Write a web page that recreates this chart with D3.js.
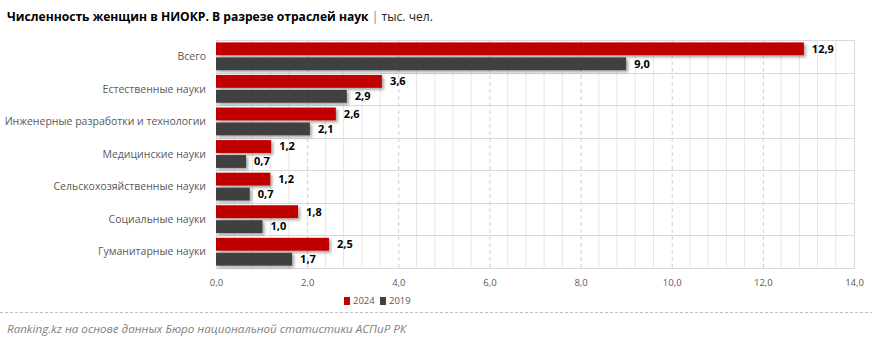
<!DOCTYPE html>
<html><head><meta charset="utf-8">
<script src="https://cdn.jsdelivr.net/npm/d3@7"></script>
<style>body{margin:0;background:#fff;} svg{display:block;font-family:"Open Sans",sans-serif;}</style>
</head><body>
<svg id="c" width="872" height="344"></svg>
<script>
const categories = ["Всего","Естественные науки","Инженерные разработки и технологии","Медицинские науки","Сельскохозяйственные науки","Социальные науки","Гуманитарные науки"];
const seriesNames = ["2024","2019"];
const values2024 = [12.9, 3.64, 2.63, 1.21, 1.19, 1.8, 2.48];
const values2019 = [9.0, 2.87, 2.06, 0.66, 0.74, 1.02, 1.67];
const xTicks = [0,2,4,6,8,10,12,14];
const colors = ["#C00000","#404040"];

const svg = d3.select("#c");
const defs = svg.append("defs");
const f = defs.append("filter").attr("id","sh").attr("x","-5%").attr("y","-50%").attr("width","115%").attr("height","250%");
f.append("feDropShadow").attr("dx",2).attr("dy",2).attr("stdDeviation",1.6).attr("flood-color","#000").attr("flood-opacity",0.35);

const L=216, R=854, T=40, B=268;
const x = d3.scaleLinear().domain([0,14]).range([L,R]);
const y = d3.scaleBand().domain(categories).range([T,B]);
const sub = d3.scaleBand().domain(seriesNames).range([0,y.bandwidth()]).paddingInner(0.14).paddingOuter(0.16);

// title
const title = svg.append("text").attr("x",7).attr("y",21).attr("font-size",12.1).attr("fill","#000");
title.append("tspan").attr("font-weight","bold").text("Численность женщин в НИОКР. В разрезе отраслей наук");
title.append("tspan").attr("fill","#7f7f7f").text(" | ");
title.append("tspan").attr("fill","#222").text("тыс. чел.");

// minor grid
const minor = d3.range(0,14.001,0.4).filter(v=>Math.abs(v/2-Math.round(v/2))>0.01);
svg.append("g").selectAll("line").data(minor).join("line")
  .attr("x1",d=>x(d)).attr("x2",d=>x(d)).attr("y1",T).attr("y2",B)
  .attr("stroke","#e6e6e6").attr("stroke-width",1);
// major dashed grid
svg.append("g").selectAll("line").data(xTicks.slice(1,-1)).join("line")
  .attr("x1",d=>x(d)+0.5).attr("x2",d=>x(d)+0.5).attr("y1",T).attr("y2",B)
  .attr("stroke","#cfcfcf").attr("stroke-dasharray","4,3");
// category separators
svg.append("g").selectAll("line").data(categories.slice(1)).join("line")
  .attr("x1",L).attr("x2",R).attr("y1",d=>Math.round(y(d))+0.5).attr("y2",d=>Math.round(y(d))+0.5)
  .attr("stroke","#d9d9d9");
// border
svg.append("rect").attr("x",L+0.5).attr("y",T+0.5).attr("width",R-L).attr("height",B-T)
  .attr("fill","none").attr("stroke","#d9d9d9");

const data = categories.map((c,i)=>({c, v:[values2024[i], values2019[i]]}));
const fmt = v => d3.format(".1f")(v).replace(".",",");

const g = svg.append("g");
data.forEach(d=>{
  seriesNames.forEach((s,j)=>{
    const yy = y(d.c)+sub(s);
    g.append("rect").attr("x",x(0)).attr("y",yy).attr("width",x(d.v[j])-x(0)).attr("height",sub.bandwidth())
      .attr("fill",colors[j]).attr("filter","url(#sh)");
    g.append("text").attr("x",x(d.v[j])+8).attr("y",yy+sub.bandwidth()/2).attr("dy","0.35em")
      .attr("font-size",11).attr("font-weight","bold").attr("fill","#000").text(fmt(d.v[j]));
  });
});

// y axis labels
svg.append("g").selectAll("text").data(categories).join("text")
  .attr("x",206).attr("y",d=>y(d)+y.bandwidth()/2).attr("dy","0.35em").attr("text-anchor","end")
  .attr("font-size",10.5).attr("fill","#595959").text(d=>d);

// x axis
const xa = svg.append("g").attr("transform",`translate(0,${B})`)
  .call(d3.axisBottom(x).tickValues(xTicks).tickSize(0).tickPadding(11).tickFormat(fmt));
xa.select(".domain").remove();
xa.selectAll("text").attr("font-size",9.5).attr("fill","#595959").attr("font-family","Open Sans, sans-serif");

// legend
const lg = svg.append("g").attr("transform","translate(344,301)");
seriesNames.forEach((s,j)=>{
  const gx = j*36;
  lg.append("rect").attr("x",gx).attr("y",-4).attr("width",6).attr("height",8).attr("fill",colors[j]);
  lg.append("text").attr("x",gx+9).attr("y",0).attr("dy","0.35em").attr("font-size",9.5).attr("fill","#595959").text(s);
});

// footer
svg.append("line").attr("x1",0).attr("x2",872).attr("y1",312.5).attr("y2",312.5)
  .attr("stroke","#bfbfbf").attr("stroke-dasharray","3,2");
svg.append("text").attr("x",7).attr("y",333).attr("font-size",11.6).attr("font-style","italic")
  .attr("fill","#7f7f7f").text("Ranking.kz на основе данных Бюро национальной статистики АСПиР РК");
</script>
</body></html>
